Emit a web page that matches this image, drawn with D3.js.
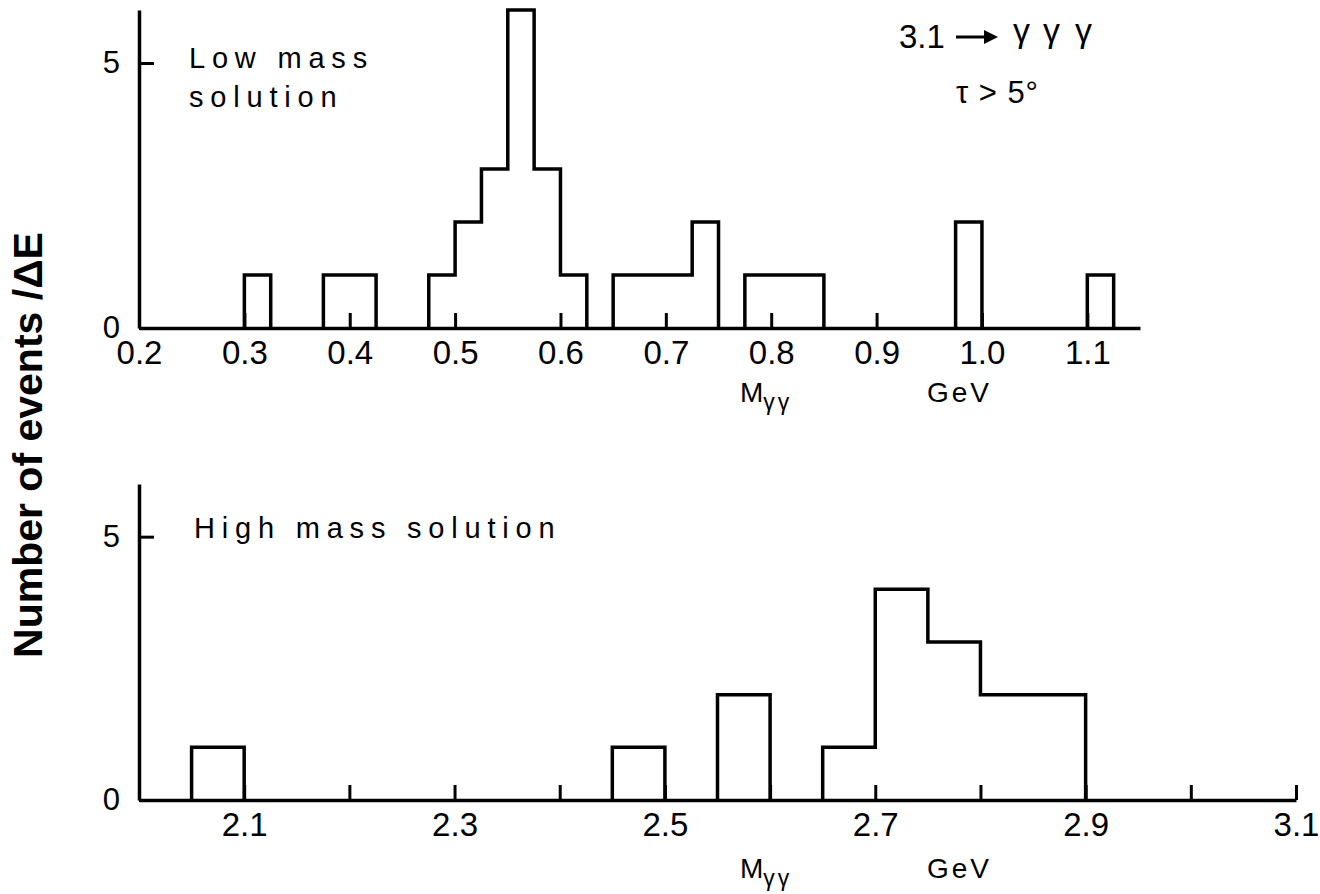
<!DOCTYPE html>
<html>
<head>
<meta charset="utf-8">
<script src="https://cdn.jsdelivr.net/npm/d3@7"></script>
<style>
  html, body { margin: 0; padding: 0; background: #fff; }
  svg { display: block; }
  text { font-family: "Liberation Sans", Arial, sans-serif; fill: #000; }
</style>
</head>
<body>
<script>
// Low mass solution: lower bin edges (GeV), counts per bin
const lowBinWidth = 0.025;
const lowBinStart = [0.300, 0.375, 0.400, 0.475, 0.500, 0.525, 0.550, 0.575, 0.600,
                     0.650, 0.675, 0.700, 0.725, 0.775, 0.800, 0.825, 0.975, 1.100];
const lowCounts   = [1, 1, 1, 1, 2, 3, 6, 3, 1,
                     1, 1, 1, 2, 1, 1, 1, 2, 1];
const lowTicks    = [0.3, 0.4, 0.5, 0.6, 0.7, 0.8, 0.9, 1.0, 1.1];
const lowLabels   = [0.2, 0.3, 0.4, 0.5, 0.6, 0.7, 0.8, 0.9, 1.0, 1.1];

// High mass solution
const highBinWidth = 0.05;
const highBinStart = [2.05, 2.45, 2.55, 2.65, 2.70, 2.75, 2.80, 2.85];
const highCounts   = [1, 1, 2, 1, 4, 3, 2, 2];
const highTicks    = [2.1, 2.2, 2.3, 2.4, 2.5, 2.6, 2.7, 2.8, 2.9, 3.0, 3.1];
const highLabels   = [2.1, 2.3, 2.5, 2.7, 2.9, 3.1];

const yTicks = [0, 5];

const W = 1320, H = 894;
const svg = d3.select("body").append("svg").attr("width", W).attr("height", H);

const LW = 3.5;
const FONT = "Liberation Sans, Arial, sans-serif";
const fmt = d3.format(".1f");

function drawPanel(p) {
  const x = d3.scaleLinear().domain(p.xDomain).range(p.xRange);
  const y = d3.scaleLinear().domain([0, 6]).range(p.yRange);
  const g = svg.append("g");

  // x axis with inward ticks
  const labelSet = new Set(p.labels.map(v => fmt(v)));
  const xAxis = d3.axisBottom(x)
    .tickValues(Array.from(new Set([...p.ticks, ...p.labels])).sort((a, b) => a - b))
    .tickSize(-15).tickSizeOuter(0).tickPadding(13)
    .tickFormat(v => labelSet.has(fmt(v)) ? fmt(v) : "");
  const gx = g.append("g").attr("transform", `translate(0,${y(0)})`).call(xAxis);
  gx.selectAll("line").attr("stroke", "#000").attr("stroke-width", 3)
    .attr("y2", v => p.ticks.some(t => Math.abs(t - v) < 1e-9) ? -15 : 0);
  gx.select(".domain").attr("stroke", "#000").attr("stroke-width", LW);
  gx.selectAll("text").attr("font-family", FONT)
    .attr("font-size", 33).attr("fill", "#000");

  // y axis
  const yAxis = d3.axisLeft(y).tickValues(yTicks)
    .tickSize(-15).tickSizeOuter(0).tickPadding(19).tickFormat(d3.format("d"));
  const gy = g.append("g").attr("transform", `translate(${x(p.xDomain[0])},0)`).call(yAxis);
  gy.selectAll("line").attr("stroke", "#000").attr("stroke-width", 3);
  gy.select(".domain").attr("stroke", "#000").attr("stroke-width", LW);
  gy.selectAll("text").attr("font-family", FONT)
    .attr("font-size", 31).attr("fill", "#000");

  // group contiguous bins and draw each as a stepped outline
  const groups = [];
  p.starts.forEach((s, i) => {
    const last = groups[groups.length - 1];
    if (last && Math.abs(last[last.length - 1].s + p.width - s) < 1e-6) last.push({ s, c: p.counts[i] });
    else groups.push([{ s, c: p.counts[i] }]);
  });
  const line = d3.line().x(d => x(d[0])).y(d => y(d[1]));
  groups.forEach(grp => {
    const pts = [[grp[0].s, 0]];
    grp.forEach(b => { pts.push([b.s, b.c]); pts.push([b.s + p.width, b.c]); });
    pts.push([grp[grp.length - 1].s + p.width, 0]);
    g.append("path").attr("d", line(pts)).attr("fill", "none")
      .attr("stroke", "#000").attr("stroke-width", LW).attr("stroke-linejoin", "miter");
  });

  // axis title: M_γγ   GeV
  const t = g.append("text").attr("x", 740).attr("y", p.titleY).attr("font-size", 28);
  t.append("tspan").text("M");
  t.append("tspan").attr("font-size", 23).attr("dy", 8).attr("letter-spacing", 3).text("γγ");
  g.append("text").attr("x", 927).attr("y", p.titleY).attr("font-size", 28)
    .attr("letter-spacing", 3).text("GeV");

  // panel caption
  p.caption.forEach((line, i) => {
    g.append("text").attr("x", p.captionX).attr("y", p.captionY + i * 39)
      .attr("font-size", 29).attr("letter-spacing", 6.8).text(line);
  });
}

drawPanel({
  xDomain: [0.2, 1.15], xRange: [139, 1140], yRange: [328, 10],
  starts: lowBinStart, counts: lowCounts, width: lowBinWidth,
  ticks: lowTicks, labels: lowLabels, titleY: 402,
  caption: ["Low mass", "solution"], captionX: 189, captionY: 68
});

drawPanel({
  xDomain: [2.0, 3.1], xRange: [139, 1296], yRange: [800, 484],
  starts: highBinStart, counts: highCounts, width: highBinWidth,
  ticks: highTicks, labels: highLabels, titleY: 878,
  caption: ["High mass solution"], captionX: 194, captionY: 538
});

// process annotation: 3.1 → γγγ, τ > 5°
svg.append("text").attr("x", 899).attr("y", 48).attr("font-size", 33).text("3.1");
// reaction arrow
svg.append("line").attr("x1", 956).attr("x2", 986).attr("y1", 37).attr("y2", 37)
  .attr("stroke", "#000").attr("stroke-width", 3);
svg.append("path").attr("d", "M984,30 L998,37 L984,44 Z").attr("fill", "#000");
const gam = svg.append("text").attr("y", 42).attr("font-size", 34);
[1013, 1043, 1075].forEach(xp => gam.append("tspan").attr("x", xp).text("γ"));
svg.append("text").attr("x", 956).attr("y", 103).attr("font-size", 31)
  .attr("textLength", 82).attr("lengthAdjust", "spacing").text("τ > 5°");

// shared y title
svg.append("text")
  .attr("transform", "translate(42,445) rotate(-90)")
  .attr("text-anchor", "middle").attr("font-size", 41).attr("font-weight", "bold")
  .text("Number of events /ΔE");
</script>
</body>
</html>
